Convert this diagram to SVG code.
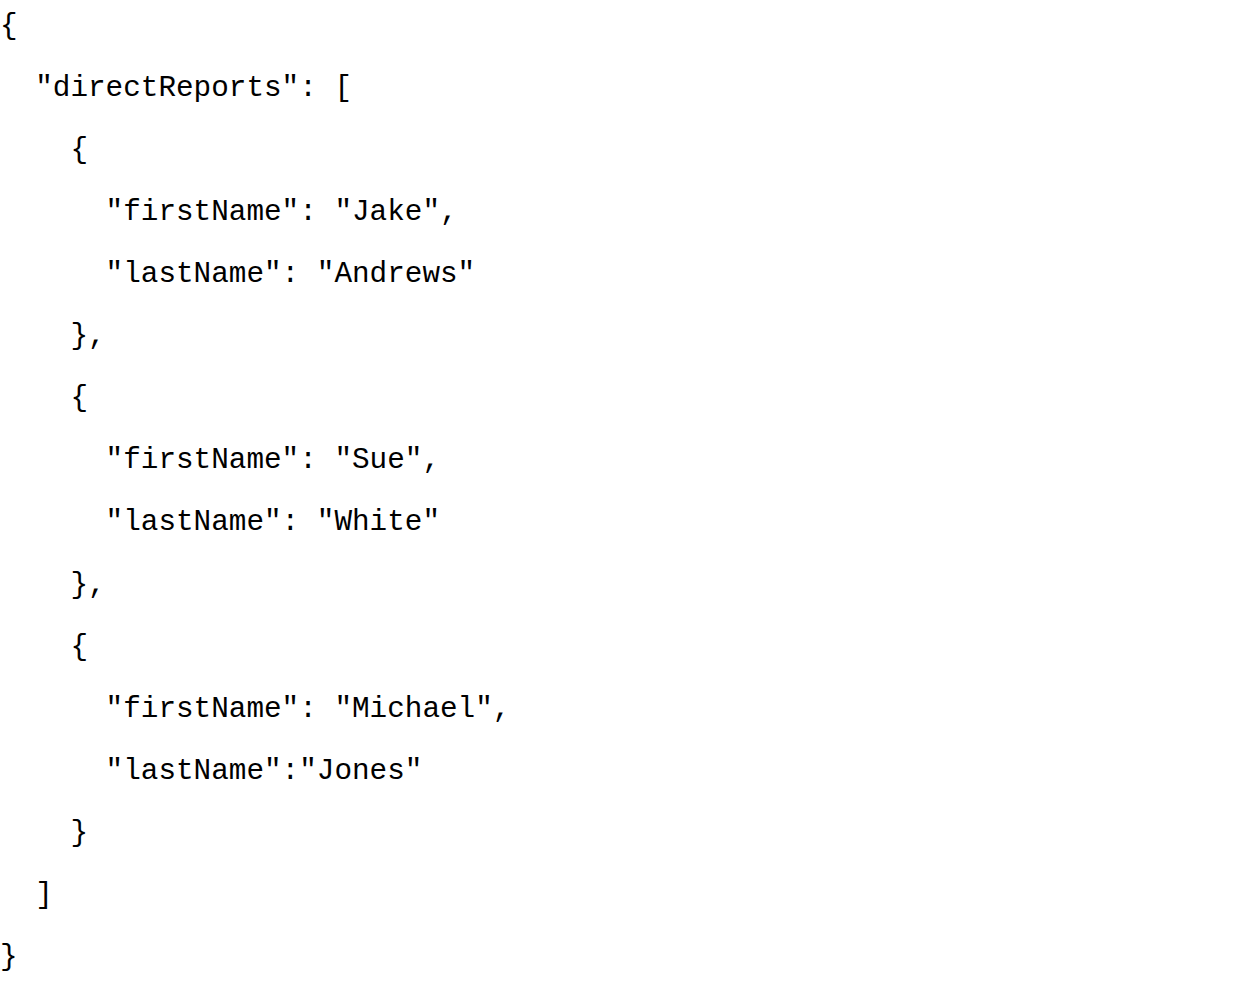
<svg xmlns="http://www.w3.org/2000/svg" width="1244" height="984" viewBox="0 0 1244 984">
<style>
text{font-family:"Liberation Mono","Courier New",monospace;font-size:29.33px;fill:#000;white-space:pre}
</style>
<rect width="1244" height="984" fill="#fff"/>
<g id="code" xml:space="preserve">
<text x="0" y="34">{</text>
<text x="0" y="96">  "directReports": [</text>
<text x="0" y="158">    {</text>
<text x="0" y="220">      "firstName": "Jake",</text>
<text x="0" y="282">      "lastName": "Andrews"</text>
<text x="0" y="344">    },</text>
<text x="0" y="406">    {</text>
<text x="0" y="468">      "firstName": "Sue",</text>
<text x="0" y="530">      "lastName": "White"</text>
<text x="0" y="593">    },</text>
<text x="0" y="655">    {</text>
<text x="0" y="717">      "firstName": "Michael",</text>
<text x="0" y="779">      "lastName":"Jones"</text>
<text x="0" y="841">    }</text>
<text x="0" y="903">  ]</text>
<text x="0" y="965">}</text>
</g>
</svg>
